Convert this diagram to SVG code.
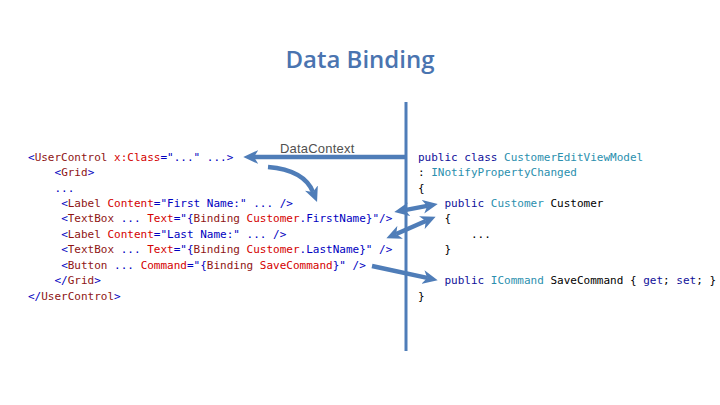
<svg xmlns="http://www.w3.org/2000/svg" width="720" height="405" viewBox="0 0 720 405">
<style>
.code{font-family:"DejaVu Sans Mono","Liberation Mono",monospace;font-size:11px;white-space:pre}
.d{fill:#0000c0}.n{fill:#8e1414}.a{fill:#d40000}.k{fill:#10109a}.t{fill:#2b8fae}.b{fill:#000}
.conn{fill:none;stroke:#4f7db8;stroke-width:4.5}
</style>
<defs>
<marker id="ah" viewBox="0 0 14 14" refX="4" refY="7" markerWidth="15" markerHeight="15" markerUnits="userSpaceOnUse" orient="auto-start-reverse">
<path d="M0,0.5 L14,7 L0,13.5 L4,7 z" fill="#4f7db8"/>
</marker>
</defs>
<rect width="720" height="405" fill="#fff"/>
<g id="title"><text x="360" y="68" text-anchor="middle" font-family="Open Sans, sans-serif" font-weight="600" font-size="24" fill="#4a74b0">Data Binding</text></g>
<g id="divider"><line x1="406" y1="102" x2="406" y2="351" stroke="#4f7db8" stroke-width="3"/></g>
<g id="datacontext-label"><text x="280" y="153" font-family="Liberation Sans, Arial, sans-serif" font-size="13" letter-spacing="0.2" fill="#505050">DataContext</text></g>
<g id="xaml" class="code">
<text x="28" y="161"><tspan class="d">&lt;</tspan><tspan class="n">UserControl</tspan><tspan class="a"> x:Class</tspan><tspan class="d">="..." ...&gt;</tspan></text>
<text x="28" y="176" xml:space="preserve">    <tspan class="d">&lt;</tspan><tspan class="n">Grid</tspan><tspan class="d">&gt;</tspan></text>
<text x="28" y="192" xml:space="preserve" class="d">    ...</text>
<text x="28" y="207" xml:space="preserve">     <tspan class="d">&lt;</tspan><tspan class="n">Label</tspan><tspan class="a"> Content</tspan><tspan class="d">="First Name:" ... /&gt;</tspan></text>
<text x="28" y="222" xml:space="preserve">     <tspan class="d">&lt;</tspan><tspan class="n">TextBox</tspan><tspan class="d"> ... </tspan><tspan class="a">Text</tspan><tspan class="d">="{</tspan><tspan class="n">Binding</tspan><tspan class="a"> Customer</tspan><tspan class="d">.FirstName}"/&gt;</tspan></text>
<text x="28" y="238" xml:space="preserve">     <tspan class="d">&lt;</tspan><tspan class="n">Label</tspan><tspan class="a"> Content</tspan><tspan class="d">="Last Name:" ... /&gt;</tspan></text>
<text x="28" y="253" xml:space="preserve">     <tspan class="d">&lt;</tspan><tspan class="n">TextBox</tspan><tspan class="d"> ... </tspan><tspan class="a">Text</tspan><tspan class="d">="{</tspan><tspan class="n">Binding</tspan><tspan class="a"> Customer</tspan><tspan class="d">.LastName}" /&gt;</tspan></text>
<text x="28" y="269" xml:space="preserve">     <tspan class="d">&lt;</tspan><tspan class="n">Button</tspan><tspan class="d"> ... </tspan><tspan class="a">Command</tspan><tspan class="d">="{</tspan><tspan class="n">Binding</tspan><tspan class="a"> SaveCommand</tspan><tspan class="d">}" /&gt;</tspan></text>
<text x="28" y="284" xml:space="preserve">    <tspan class="d">&lt;/</tspan><tspan class="n">Grid</tspan><tspan class="d">&gt;</tspan></text>
<text x="28" y="300"><tspan class="d">&lt;/</tspan><tspan class="n">UserControl</tspan><tspan class="d">&gt;</tspan></text>
</g>
<g id="viewmodel" class="code">
<text x="418" y="161" xml:space="preserve"><tspan class="k">public class </tspan><tspan class="t">CustomerEditViewModel</tspan></text>
<text x="418" y="176" xml:space="preserve"><tspan class="b">: </tspan><tspan class="t">INotifyPropertyChanged</tspan></text>
<text x="418" y="192" class="b">{</text>
<text x="418" y="207" xml:space="preserve">    <tspan class="k">public </tspan><tspan class="t">Customer</tspan><tspan class="b"> Customer</tspan></text>
<text x="418" y="222" xml:space="preserve" class="b">    {</text>
<text x="418" y="238" xml:space="preserve" class="b">        ...</text>
<text x="418" y="253" xml:space="preserve" class="b">    }</text>
<text x="418" y="284" xml:space="preserve">    <tspan class="k">public </tspan><tspan class="t">ICommand</tspan><tspan class="b"> SaveCommand { </tspan><tspan class="k">get</tspan><tspan class="b">; </tspan><tspan class="k">set</tspan><tspan class="b">; }</tspan></text>
<text x="418" y="300" class="b">}</text>
</g>
<g id="connectors">
<path class="conn" d="M407,157 H254" marker-end="url(#ah)"/>
<path class="conn" d="M268,167 Q304,170 313,192" marker-end="url(#ah)"/>
<path class="conn" d="M404.8,210.1 L427.2,205.9" marker-start="url(#ah)" marker-end="url(#ah)"/>
<path class="conn" d="M396.2,234 L425.8,221" marker-start="url(#ah)" marker-end="url(#ah)"/>
<path class="conn" d="M372,266 L427.2,277.9" marker-end="url(#ah)"/>
</g>
</svg>
